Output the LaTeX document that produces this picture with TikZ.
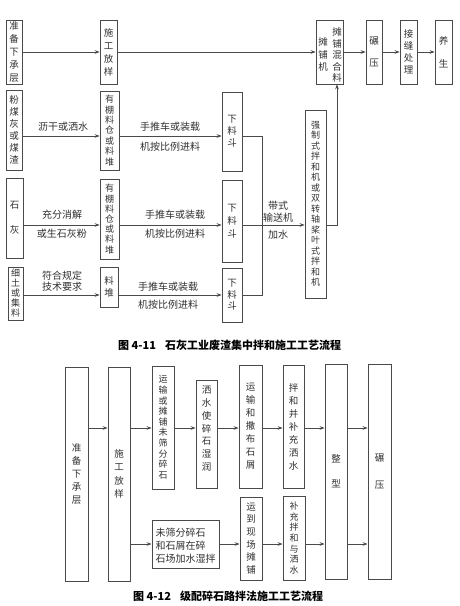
\documentclass[tikz,border=0pt]{standalone}
\usepackage{fontspec}
\setmainfont{Noto Sans CJK SC}
\usetikzlibrary{arrows.meta}
\definecolor{lc}{HTML}{4A4A4A}
\definecolor{tc}{HTML}{303030}
\begin{document}
\begin{tikzpicture}[x=1pt,y=-1pt,
  box/.style={draw=lc, line width=0.7pt, inner sep=0pt, align=center, text=tc},
  wire/.style={draw=lc, line width=0.7pt},
  arr/.style={draw=lc, line width=0.7pt, -{Stealth[length=5pt,width=3.6pt]}},
  lbl/.style={text=tc, inner sep=0pt, align=center, font=\fontsize{10}{12}\selectfont},
  vtx/.style={font=\fontsize{9.5}{#1}\selectfont},
  vts/.style={font=\fontsize{9}{#1}\selectfont},
  captext/.style={text=black, inner sep=0pt, anchor=west, font=\fontsize{11}{13}\selectfont\bfseries},
]
\useasboundingbox (0,0) rectangle (460,606);

% ===== Figure 4-11 =====
% top row
\node[box, vtx=13, minimum width=16pt, minimum height=64pt] (A1) at (14,52) {准\\备\\下\\承\\层};
\node[box, vtx=13, minimum width=17pt, minimum height=64pt] (A2) at (108.5,52) {施\\工\\放\\样};
\node[box, minimum width=27pt, minimum height=64pt] (A3) at (329.5,52) {};
\node[lbl, vtx=12.5] (A3a) at (323,54.5) {摊\\铺\\机};
\node[lbl, vtx=11.5] (A3b) at (337,55) {摊\\铺\\混\\合\\料};
\node[box, vtx=22, minimum width=16pt, minimum height=64pt] (A4) at (374,52) {碾\\压};
\node[box, vtx=12, minimum width=17pt, minimum height=64pt] (A5) at (408.5,52) {接\\缝\\处\\理};
\node[box, vtx=23, minimum width=17pt, minimum height=64pt] (A6) at (443.5,52) {养\\生};
\draw[arr] (A1) -- (A2);
\draw[arr] (A2) -- (A3);
\draw[arr] (A3) -- (A4);
\draw[arr] (A4) -- (A5);
\draw[arr] (A5) -- (A6);

% row 2
\coordinate (r2) at (0,136);
\node[box, vtx=12, minimum width=16pt, minimum height=80pt] (B1) at (14,130) {粉\\煤\\灰\\或\\煤\\渣};
\node[box, vts=10.4, minimum width=19pt, minimum height=79pt] (B2) at (109.5,130.5) {有\\棚\\料\\仓\\或\\料\\堆};
\node[box, vtx=11.8, minimum width=20pt, minimum height=79pt] (D1) at (232,131.5) {下\\料\\斗};
\draw[arr] (B1.east |- r2) -- (B2.west |- r2);
\draw[arr] (B2.east |- r2) -- (D1.west |- r2);
\node[lbl] (L21) at (63,127) {沥干或洒水};
\node[lbl] (L22) at (170,127) {手推车或装载};
\node[lbl] (L23) at (170,147) {机按比例进料};

% row 3
\coordinate (r3) at (0,225);
\node[box, vtx=25, minimum width=17pt, minimum height=80pt] (C1) at (14.5,218) {石\\灰};
\node[box, vts=10.2, minimum width=19pt, minimum height=80pt] (C2) at (109.5,219) {有\\棚\\料\\仓\\或\\料\\堆};
\node[box, vtx=13, minimum width=20pt, minimum height=82pt] (D2) at (232,221) {下\\料\\斗};
\draw[arr] (C1.east |- r3) -- (C2.west |- r3);
\draw[arr] (C2.east |- r3) -- (D2.west |- r3);
\node[lbl] (L31) at (62,215) {充分消解};
\node[lbl] (L32) at (62,234) {或生石灰粉};
\node[lbl] (L33) at (175,215) {手推车或装载};
\node[lbl] (L34) at (175,234) {机按比例进料};

% row 4
\coordinate (r4) at (0,295);
\node[box, vts=10, minimum width=15pt, minimum height=53pt] (E1) at (15.5,293.5) {细\\土\\或\\集\\料};
\node[box, vtx=12, minimum width=18pt, minimum height=40pt] (E2) at (109,287) {料\\堆};
\node[box, vtx=11.5, minimum width=20pt, minimum height=54pt] (D3) at (232,295) {下\\料\\斗};
\draw[arr] (E1.east |- r4) -- (E2.west |- r4);
\draw[arr] (E2.east |- r4) -- (D3.west |- r4);
\node[lbl] (L41) at (62,276) {符合规定};
\node[lbl] (L42) at (62,287) {技术要求};
\node[lbl] (L43) at (168,287) {手推车或装载};
\node[lbl] (L44) at (168,305) {机按比例进料};

% mixer
\node[box, vts=10.5, minimum width=21pt, minimum height=188pt] (M) at (315.5,204) {强\\制\\式\\拌\\和\\机\\或\\双\\转\\轴\\桨\\叶\\式\\拌\\和\\机};
\coordinate (cx) at (262,0);
\draw[wire] (D1.east |- r2) -| (cx |- r4) -- (D3.east |- r4);
\draw[arr] (D2.east |- r3) -- (M.west |- r3);
\node[lbl] (L51) at (278,206) {带式};
\node[lbl] (L52) at (278,218) {输送机};
\node[lbl] (L53) at (278,235) {加水};
\coordinate (up) at (337,0);
\draw[arr] (M.east |- r3) -| (up |- A3.south);

\node[captext] (cap1) at (118,345) {图 4-11\hspace{9pt}石灰工业废渣集中拌和施工工艺流程};

% ===== Figure 4-12 =====
\coordinate (s1) at (0,428);
\coordinate (s2) at (0,544);
\node[box, vtx=13, minimum width=23pt, minimum height=214pt] (P1) at (76.5,474) {准\\备\\下\\承\\层};
\node[box, vtx=13.3, minimum width=22pt, minimum height=214pt] (P2) at (119,474) {施\\工\\放\\样};
\node[box, vts=10.6, minimum width=22pt, minimum height=123pt] (Q1) at (163,427.5) {运\\输\\或\\摊\\铺\\未\\筛\\分\\碎\\石};
\node[box, minimum width=21pt, minimum height=108pt] (Q2) at (206.5,434) {};
\node[lbl, vtx=12.8] (Q2t) at (206.5,428.5) {洒\\水\\使\\碎\\石\\湿\\润};
\node[box, vtx=13, minimum width=23pt, minimum height=123pt] (Q3) at (250.5,426.5) {运\\输\\和\\撒\\布\\石\\屑};
\node[box, vtx=13, minimum width=21pt, minimum height=123pt] (Q4) at (293.5,426.5) {拌\\和\\并\\补\\充\\洒\\水};
\node[box, vtx=25, minimum width=22pt, minimum height=215pt] (Z) at (336,471.5) {整\\型};
\node[box, vtx=27, minimum width=23pt, minimum height=215pt] (N) at (379.5,471.5) {碾\\压};
\node[box, minimum width=67pt, minimum height=48pt] (R1) at (185.5,544) {};
\node[lbl, align=left, font=\fontsize{10}{13}\selectfont] (R1t) at (185.5,546) {未筛分碎石\\和石屑在碎\\石场加水湿拌};
\node[box, vtx=12.6, minimum width=22pt, minimum height=83pt] (R2) at (251,538.5) {运\\到\\现\\场\\摊\\铺};
\node[box, vts=10.7, minimum width=22pt, minimum height=84pt] (R3) at (294,538) {补\\充\\拌\\和\\与\\洒\\水};

\draw[arr] (P1.east |- s1) -- (P2.west |- s1);
\draw[arr] (P2.east |- s1) -- (Q1.west |- s1);
\draw[arr] (Q1.east |- s1) -- (Q2.west |- s1);
\draw[arr] (Q2.east |- s1) -- (Q3.west |- s1);
\draw[arr] (Q3.east |- s1) -- (Q4.west |- s1);
\draw[arr] (Q4.east |- s1) -- (Z.west |- s1);
\draw[arr] (Z.east |- s1) -- (N.west |- s1);
\draw[arr] (P2.east |- s2) -- (R1.west |- s2);
\draw[arr] (R1.east |- s2) -- (R2.west |- s2);
\draw[arr] (R2.east |- s2) -- (R3.west |- s2);
\draw[arr] (R3.east |- s2) -- (Z.west |- s2);
\draw[arr] (Z.east |- s2) -- (N.west |- s2);

\node[captext] (cap2) at (133,596) {图 4-12\hspace{9pt}级配碎石路拌法施工工艺流程};
\end{tikzpicture}
\end{document}
